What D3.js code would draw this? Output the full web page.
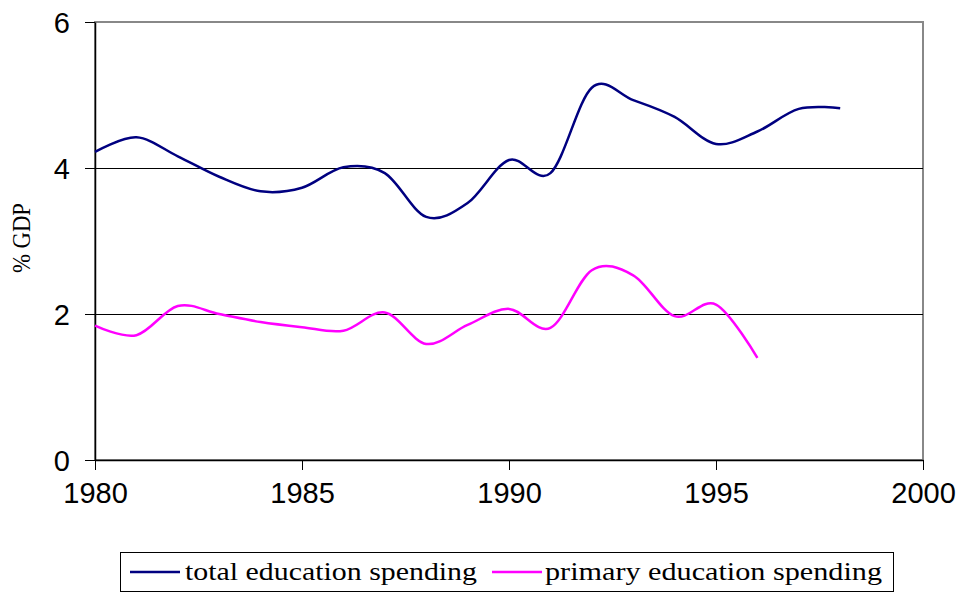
<!DOCTYPE html>
<html>
<head>
<meta charset="utf-8">
<script src="https://cdn.jsdelivr.net/npm/d3@7/dist/d3.min.js"></script>
<style>
  body { margin: 0; background: #fff; }
  svg { display: block; }
</style>
</head>
<body>
<div id="chart"></div>
<script>
// data
var totalYears = [1980, 1981, 1982, 1983, 1984, 1985, 1986, 1987, 1988, 1989,
                  1990, 1991, 1992, 1993, 1994, 1995, 1996, 1997, 1998];
var totalValues = [4.22, 4.42, 4.16, 3.88, 3.68, 3.73, 4.01, 3.93, 3.33, 3.52,
                   4.11, 3.93, 5.10, 4.93, 4.70, 4.33, 4.50, 4.81, 4.82];
var primaryYears = [1980, 1981, 1982, 1983, 1984, 1985, 1986, 1987, 1988, 1989,
                    1990, 1991, 1992, 1993, 1994, 1995, 1996];
var primaryValues = [1.84, 1.71, 2.11, 2.00, 1.89, 1.82, 1.77, 2.02, 1.59, 1.85,
                     2.07, 1.81, 2.60, 2.53, 1.97, 2.13, 1.40];
var xTicks = [1980, 1985, 1990, 1995, 2000];
var yTicks = [0, 2, 4, 6];
var seriesNames = ["total education spending", "primary education spending"];
var seriesColors = ["#000080", "#ff00ff"];

var W = 962, H = 595;
var margin = {top: 22, right: 39, bottom: 135, left: 95},
    width = W - margin.left - margin.right,
    height = H - margin.top - margin.bottom;

var x = d3.scaleLinear().domain([1980, 2000]).range([0, width]);
var y = d3.scaleLinear().domain([0, 6]).range([height, 0]);

var svg = d3.select("#chart").append("svg")
    .attr("width", W)
    .attr("height", H);

var g = svg.append("g")
    .attr("transform", "translate(" + margin.left + "," + margin.top + ")");

// plot frame (grey)
g.append("rect")
    .attr("x", 0).attr("y", 0)
    .attr("width", width).attr("height", height)
    .attr("fill", "none")
    .attr("stroke", "#888")
    .attr("stroke-width", 2);

// gridlines
g.selectAll(".grid")
    .data(yTicks.filter(function(t) { return t > 0 && t < 6; }))
  .enter().append("line")
    .attr("class", "grid")
    .attr("x1", 0).attr("x2", width)
    .attr("y1", function(d) { return Math.round(y(d)) + 0.5; })
    .attr("y2", function(d) { return Math.round(y(d)) + 0.5; })
    .attr("stroke", "#000")
    .attr("stroke-width", 1)
    .attr("shape-rendering", "crispEdges");

// axes
var xAxis = d3.axisBottom(x).tickValues(xTicks).tickFormat(d3.format("d"))
    .tickSize(10).tickSizeOuter(0);
var yAxis = d3.axisLeft(y).tickValues(yTicks).tickFormat(d3.format("d"))
    .tickSize(10).tickSizeOuter(0);

var gx = g.append("g")
    .attr("transform", "translate(0," + height + ")")
    .call(xAxis);
var gy = g.append("g").call(yAxis);

[gx, gy].forEach(function(a) {
  a.select(".domain").attr("stroke", "#000").attr("stroke-width", 1.5);
  a.selectAll(".tick line").attr("stroke", "#000").attr("stroke-width", 1)
    .attr("shape-rendering", "crispEdges");
  a.selectAll(".tick text")
    .attr("fill", "#000")
    .style("font-family", "'Liberation Sans', Arial, sans-serif")
    .style("font-size", "29px");
});
gx.selectAll(".tick text").attr("y", 22).attr("dy", "0.71em");
gy.selectAll(".tick text").attr("x", -25).attr("dy", "0.36em");

// y title
svg.append("text")
    .attr("transform", "translate(30,238) rotate(-90)")
    .attr("text-anchor", "middle")
    .attr("textLength", 70)
    .attr("lengthAdjust", "spacingAndGlyphs")
    .style("font-family", "'Liberation Serif', 'Times New Roman', serif")
    .style("font-size", "26px")
    .text("% GDP");

// lines
var line = d3.line()
    .x(function(d) { return x(d[0]); })
    .y(function(d) { return y(d[1]); })
    .curve(d3.curveCardinal);

var totalData = d3.zip(totalYears, totalValues);
var primaryData = d3.zip(primaryYears, primaryValues);

g.append("path")
    .datum(totalData)
    .attr("d", line)
    .attr("fill", "none")
    .attr("stroke", seriesColors[0])
    .attr("stroke-width", 2.5);

g.append("path")
    .datum(primaryData)
    .attr("d", line)
    .attr("fill", "none")
    .attr("stroke", seriesColors[1])
    .attr("stroke-width", 2.5);

// legend
var legend = svg.append("g");
legend.append("rect")
    .attr("x", 120.5).attr("y", 552.5)
    .attr("width", 773).attr("height", 39)
    .attr("fill", "#fff")
    .attr("stroke", "#000")
    .attr("stroke-width", 1);

var legItems = [
  {lx: 130, tx: 185, len: 292},
  {lx: 492, tx: 545, len: 337}
];
legItems.forEach(function(it, i) {
  legend.append("line")
      .attr("x1", it.lx).attr("x2", it.lx + 50)
      .attr("y1", 572).attr("y2", 572)
      .attr("stroke", seriesColors[i])
      .attr("stroke-width", 2.5);
  legend.append("text")
      .attr("x", it.tx).attr("y", 580)
      .attr("textLength", it.len)
      .attr("lengthAdjust", "spacingAndGlyphs")
      .style("font-family", "'Liberation Serif', 'Times New Roman', serif")
      .style("font-size", "26px")
      .text(seriesNames[i]);
});
</script>
</body>
</html>
